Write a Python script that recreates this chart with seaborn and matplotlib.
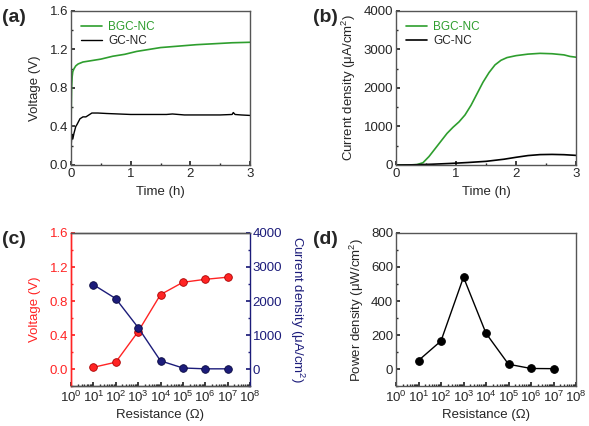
import numpy as np
import pandas as pd
import matplotlib
matplotlib.use("Agg")
import matplotlib.pyplot as plt
from matplotlib.ticker import MultipleLocator, LogLocator, NullFormatter
import seaborn as sns

sns.set_theme(style="ticks")
plt.rcParams.update({
    "font.family": ["Liberation Sans", "DejaVu Sans"],
    "font.size": 9,
    "axes.edgecolor": "#555555",
    "axes.linewidth": 1.0,
    "xtick.direction": "in",
    "ytick.direction": "in",
    "xtick.major.size": 3,
    "ytick.major.size": 3,
    "xtick.minor.size": 1.5,
    "ytick.minor.size": 1.5,
    "xtick.major.pad": 2.5,
    "ytick.major.pad": 2,
    "mathtext.default": "regular",
})

GREEN = "#2e9e2e"
RED = "#ff2424"
NAVY = "#1c1c7a"

# ── (a) voltage vs time ──────────────────────────────────────────────────────
t_bgc_v = [0.0, 0.005, 0.01, 0.02, 0.03, 0.05, 0.08, 0.12, 0.2, 0.3, 0.5, 0.7, 0.9,
           1.1, 1.3, 1.5, 1.8, 2.1, 2.4, 2.7, 3.0]
v_bgc = [0.35, 0.62, 0.80, 0.92, 0.97, 1.00, 1.03, 1.05, 1.07, 1.08, 1.10, 1.13, 1.15,
         1.18, 1.20, 1.22, 1.235, 1.25, 1.26, 1.27, 1.275]
t_gc_v = [0.0, 0.005, 0.015, 0.03, 0.05, 0.08, 0.1, 0.15, 0.2, 0.25, 0.3, 0.35, 0.45,
          0.6, 0.8, 1.0, 1.3, 1.6, 1.7, 1.9, 2.2, 2.5, 2.7, 2.72, 2.75, 2.85, 3.0]
v_gc = [0.0, 0.22, 0.32, 0.27, 0.33, 0.40, 0.42, 0.48, 0.50, 0.50, 0.52, 0.54, 0.54,
        0.535, 0.53, 0.525, 0.525, 0.525, 0.53, 0.52, 0.52, 0.52, 0.525, 0.545, 0.525, 0.52, 0.515]

# ── (b) current density vs time ──────────────────────────────────────────────
t_bgc_j = [0.0, 0.2, 0.35, 0.45, 0.55, 0.65, 0.75, 0.85, 0.95, 1.05, 1.15, 1.25, 1.35,
           1.45, 1.55, 1.65, 1.75, 1.85, 2.0, 2.2, 2.4, 2.6, 2.8, 2.9, 3.0]
j_bgc = [0, 0, 10, 60, 220, 420, 620, 820, 980, 1120, 1300, 1550, 1850,
         2150, 2400, 2600, 2720, 2790, 2840, 2880, 2900, 2890, 2860, 2820, 2800]
t_gc_j = [0.0, 0.3, 0.6, 0.9, 1.2, 1.5, 1.8, 2.0, 2.2, 2.4, 2.6, 2.8, 3.0]
j_gc = [0, 5, 20, 40, 65, 95, 150, 200, 245, 270, 275, 268, 250]

# ── (c)/(d) polarisation data ────────────────────────────────────────────────
resistance = [1e1, 1e2, 1e3, 1e4, 1e5, 1e6, 1e7]
voltage = [0.02, 0.08, 0.44, 0.875, 1.02, 1.055, 1.08]
current = [2480, 2070, 1220, 240, 30, 5, 5]
power = [50, 165, 540, 210, 28, 3, 2]

fig = plt.figure(figsize=(5.89, 4.26), dpi=100)
W, H = 589, 426


def box(l, t, r, b):
    return [l / W, 1 - b / H, (r - l) / W, (b - t) / H]


ax1 = fig.add_axes(box(71, 11, 250, 165))
ax2 = fig.add_axes(box(396, 11, 576, 165))
ax3 = fig.add_axes(box(71, 233, 250, 386))
ax4 = fig.add_axes(box(396, 233, 576, 386))

FS = 9.5
LEG = dict(loc="upper left", frameon=False, fontsize=8.5, handlelength=1.8,
           handletextpad=0.5, borderaxespad=0.45, labelspacing=0.2)

# (a)
sns.lineplot(x=t_bgc_v, y=v_bgc, ax=ax1, color=GREEN, lw=1.2, label="BGC-NC")
sns.lineplot(x=t_gc_v, y=v_gc, ax=ax1, color="black", lw=1.0, label="GC-NC")
ax1.set_xlim(0, 3)
ax1.set_ylim(0, 1.6)
ax1.xaxis.set_major_locator(MultipleLocator(1))
ax1.xaxis.set_minor_locator(MultipleLocator(0.5))
ax1.yaxis.set_major_locator(MultipleLocator(0.4))
ax1.yaxis.set_minor_locator(MultipleLocator(0.2))
ax1.set_xlabel("Time (h)", fontsize=FS, labelpad=4)
ax1.set_ylabel("Voltage (V)", fontsize=FS, labelpad=6)
leg = ax1.legend(**LEG)
leg.get_texts()[0].set_color(GREEN)

# (b)
sns.lineplot(x=t_bgc_j, y=j_bgc, ax=ax2, color=GREEN, lw=1.2, label="BGC-NC")
sns.lineplot(x=t_gc_j, y=j_gc, ax=ax2, color="black", lw=1.2, label="GC-NC")
ax2.set_xlim(0, 3)
ax2.set_ylim(0, 4000)
ax2.xaxis.set_major_locator(MultipleLocator(1))
ax2.xaxis.set_minor_locator(MultipleLocator(0.5))
ax2.yaxis.set_major_locator(MultipleLocator(1000))
ax2.yaxis.set_minor_locator(MultipleLocator(500))
ax2.set_xlabel("Time (h)", fontsize=FS, labelpad=4)
ax2.set_ylabel("Current density (μA/cm$^2$)", fontsize=FS, labelpad=4)
leg = ax2.legend(**LEG)
leg.get_texts()[0].set_color(GREEN)


def log_axis(ax):
    ax.set_xscale("log")
    ax.set_xlim(1, 1e8)
    ax.xaxis.set_major_locator(LogLocator(base=10, numticks=20))
    ax.xaxis.set_minor_locator(LogLocator(base=10, subs=np.arange(2, 10), numticks=20))
    ax.xaxis.set_minor_formatter(NullFormatter())
    ax.set_xlabel("Resistance (Ω)", fontsize=FS, labelpad=3)


# (c)
sns.lineplot(x=resistance, y=voltage, ax=ax3, color=RED, lw=1.0, marker="o",
             markersize=5.5, markeredgecolor="#aa0000", markeredgewidth=0.6)
log_axis(ax3)
ax3.set_ylim(-0.2, 1.6)
ax3.set_yticks([0.0, 0.4, 0.8, 1.2, 1.6])
ax3.set_yticklabels(["0.0", "0.4", "0.8", "1.2", "1.6"])
ax3.yaxis.set_minor_locator(MultipleLocator(0.2))
ax3.set_ylabel("Voltage (V)", color=RED, fontsize=FS, labelpad=6)
ax3.tick_params(axis="y", colors=RED, which="both")
ax3.spines["left"].set_color(RED)
ax3.spines["right"].set_visible(False)

ax3b = ax3.twinx()
sns.lineplot(x=resistance, y=current, ax=ax3b, color=NAVY, lw=1.0, marker="o",
             markersize=5.5, markeredgecolor="#0a0a40", markeredgewidth=0.6)
ax3b.set_ylim(-500, 4000)
ax3b.set_yticks([0, 1000, 2000, 3000, 4000])
ax3b.yaxis.set_minor_locator(MultipleLocator(500))
ax3b.set_ylabel("Current density (μA/cm$^2$)", color=NAVY, fontsize=FS,
                rotation=270, va="bottom", labelpad=4)
ax3b.tick_params(axis="y", colors=NAVY, which="both", direction="in")
ax3b.spines["right"].set_color(NAVY)
ax3b.spines["left"].set_color(RED)

# (d)
sns.lineplot(x=resistance, y=power, ax=ax4, color="black", lw=1.0, marker="o",
             markersize=5.5, markeredgecolor="black")
log_axis(ax4)
ax4.set_ylim(-100, 800)
ax4.set_yticks([0, 200, 400, 600, 800])
ax4.yaxis.set_minor_locator(MultipleLocator(100))
ax4.set_ylabel("Power density (μW/cm$^2$)", fontsize=FS, labelpad=4)

for ax in (ax1, ax2, ax3, ax3b, ax4):
    ax.tick_params(labelsize=FS)

for ax in (ax1, ax2, ax4):
    for s in ax.spines.values():
        s.set_color("#555555")

for x, y, lab in [(2, 17, "(a)"), (313, 17, "(b)"), (2, 240, "(c)"), (313, 240, "(d)")]:
    fig.text(x / W, 1 - y / H, lab, fontsize=14, fontweight="bold", va="center")

fig.savefig("out.png", dpi=100, facecolor="white")
